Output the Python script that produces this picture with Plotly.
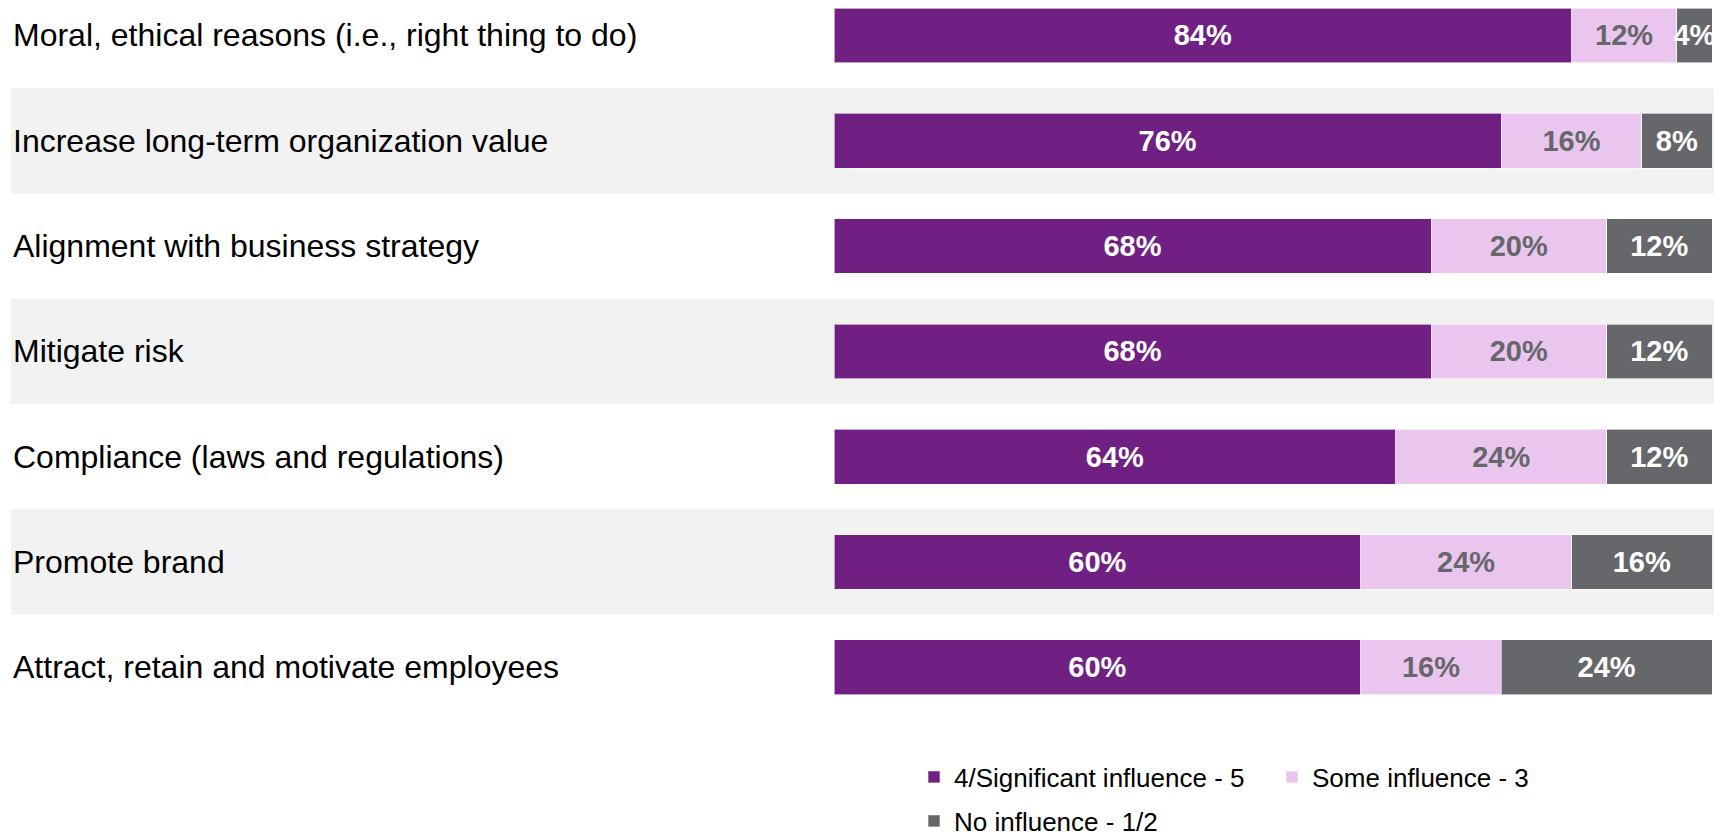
import plotly.graph_objects as go

categories = [
    "Moral, ethical reasons (i.e., right thing to do)",
    "Increase long-term organization value",
    "Alignment with business strategy",
    "Mitigate risk",
    "Compliance (laws and regulations)",
    "Promote brand",
    "Attract, retain and motivate employees",
]
significant = [84, 76, 68, 68, 64, 60, 60]
some = [12, 16, 20, 20, 24, 24, 16]
none_ = [4, 8, 12, 12, 12, 16, 24]
series_names = ["4/Significant influence - 5", "Some influence - 3", "No influence - 1/2"]

W, H = 1714, 836
PURPLE = "#702082"
PINK = "#eac6ef"
GREY = "#66676b"
FONT = "Liberation Sans, Arial, sans-serif"

fig = go.Figure()
specs = [
    (significant, series_names[0], PURPLE, "white", "legend"),
    (some, series_names[1], PINK, GREY, "legend"),
    (none_, series_names[2], GREY, "white", "legend2"),
]
for vals, name, col, tcol, leg in specs:
    fig.add_trace(go.Bar(
        y=categories, x=vals, name=name, orientation="h",
        marker=dict(color=col, line=dict(color="rgba(255,255,255,0.6)", width=1)),
        width=0.52,
        text=[f"{v}%" for v in vals],
        textposition="inside", insidetextanchor="middle",
        constraintext="none", textangle=0,
        textfont=dict(family=FONT, size=29, color=tcol, weight="bold"),
        legend=leg, hoverinfo="skip",
    ))

shapes = []
for i in range(len(categories)):
    if i % 2 == 1:
        shapes.append(dict(type="rect", xref="paper", yref="y",
                           x0=11 / W, x1=1, y0=i - 0.5, y1=i + 0.5,
                           fillcolor="#f2f2f2", line=dict(width=0), layer="below"))

annotations = []
for i, c in enumerate(categories):
    annotations.append(dict(xref="paper", yref="y", x=11 / W, y=i, text=c,
                            showarrow=False, xanchor="left", yanchor="middle",
                            font=dict(family=FONT, size=32, color="#000000")))

fig.update_layout(
    width=W, height=H,
    margin=dict(l=0, r=0, t=0, b=0, autoexpand=False),
    paper_bgcolor="white", plot_bgcolor="rgba(0,0,0,0)",
    barmode="stack",
    showlegend=True,
    xaxis=dict(domain=[834 / W, 1712 / W], range=[0, 100], visible=False, fixedrange=True),
    yaxis=dict(type="category", categoryorder="array", categoryarray=categories,
               range=[7.602, -0.337], visible=False, fixedrange=True),
    shapes=shapes,
    annotations=annotations,
    legend=dict(orientation="h", x=914 / W, xanchor="left", y=1 - 777 / H, yanchor="middle",
                font=dict(family=FONT, size=26, color="#000000"), entrywidth=313,
                traceorder="normal", bgcolor="rgba(0,0,0,0)"),
    legend2=dict(orientation="h", x=914 / W, xanchor="left", y=1 - 821 / H, yanchor="middle",
                 font=dict(family=FONT, size=26, color="#000000"),
                 bgcolor="rgba(0,0,0,0)"),
)

fig.write_html("out.html")
